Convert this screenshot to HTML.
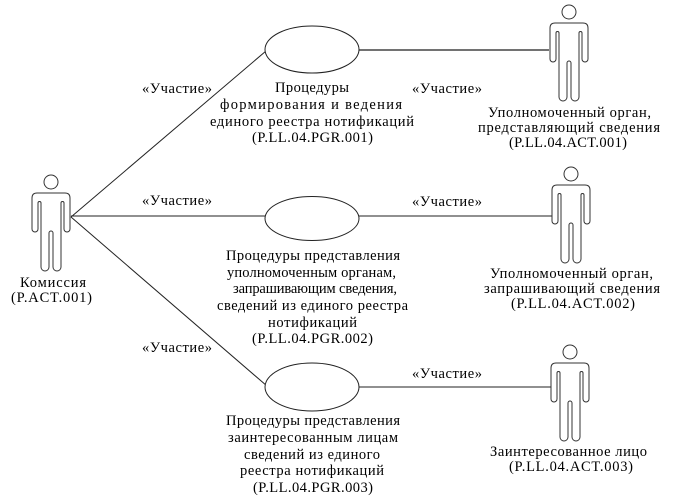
<!DOCTYPE html>
<html>
<head>
<meta charset="utf-8">
<style>
  html, body { margin:0; padding:0; background:#fff; }
  svg { display:block; }
  text { font-family: "Liberation Serif", "Times New Roman", "DejaVu Serif", serif; font-size:14.5px; fill:#000; }
</style>
</head>
<body>
<svg width="674" height="500" viewBox="0 0 674 500" xmlns="http://www.w3.org/2000/svg">
  <rect width="674" height="500" fill="#fff"/>

  <!-- connectors -->
  <g stroke="#222" stroke-width="1" fill="none">
    <line x1="71" y1="217" x2="266" y2="51"/>
    <line x1="71" y1="216" x2="265" y2="216"/>
    <line x1="71" y1="217" x2="267" y2="386"/>
    <line x1="359" y1="50" x2="549" y2="50" stroke="#444" stroke-width="1.4"/>
    <line x1="359" y1="216" x2="552" y2="216"/>
    <line x1="359" y1="387" x2="551" y2="387"/>
  </g>

  <!-- use cases -->
  <g stroke="#222" stroke-width="1" fill="#fff">
    <ellipse cx="312" cy="49.5" rx="47" ry="23.5"/>
    <ellipse cx="312" cy="218.5" rx="47" ry="22"/>
    <ellipse cx="312" cy="387" rx="47" ry="24"/>
  </g>

  <!-- actors -->
  <defs>
    <g id="actor" stroke="#333" stroke-width="1" fill="#fff">
      <circle cx="0" cy="-11" r="7"/>
      <path d="M0,0 L14,0 Q19,0 19,5 L19,36 A3,3 0 0 1 13,36 L13,10 A1.5,1.5 0 0 0 10,10 L10,74 A4,4 0 0 1 2,74 L2,40 A2,2 0 0 0 -2,40 L-2,74 A4,4 0 0 1 -10,74 L-10,10 A1.5,1.5 0 0 0 -13,10 L-13,36 A3,3 0 0 1 -19,36 L-19,5 Q-19,0 -14,0 Z"/>
    </g>
  </defs>
  <use href="#actor" x="51" y="193"/>
  <use href="#actor" x="569" y="23"/>
  <use href="#actor" x="571" y="185"/>
  <use href="#actor" x="570" y="363"/>

  <g font-family="Liberation Serif, Times New Roman, serif" font-size="14.5">
  <!-- stereotype labels -->
  <text x="142" y="93" textLength="70" lengthAdjust="spacing">«Участие»</text>
  <text x="142" y="205" textLength="70" lengthAdjust="spacing">«Участие»</text>
  <text x="142" y="352" textLength="70" lengthAdjust="spacing">«Участие»</text>
  <text x="412" y="93" textLength="70" lengthAdjust="spacing">«Участие»</text>
  <text x="412" y="206" textLength="70" lengthAdjust="spacing">«Участие»</text>
  <text x="412" y="378" textLength="70" lengthAdjust="spacing">«Участие»</text>

  <!-- Komissiya -->
  <text x="20" y="287" textLength="66" lengthAdjust="spacing">Комиссия</text>
  <text x="11" y="302" textLength="81" lengthAdjust="spacing">(P.ACT.001)</text>

  <!-- Use case 1 label -->
  <text x="275" y="92" textLength="74" lengthAdjust="spacing">Процедуры</text>
  <text x="220" y="109" textLength="182" lengthAdjust="spacing">формирования и ведения</text>
  <text x="210" y="126" textLength="204" lengthAdjust="spacing">единого реестра нотификаций</text>
  <text x="252" y="142" textLength="121" lengthAdjust="spacing">(P.LL.04.PGR.001)</text>

  <!-- Use case 2 label -->
  <text x="226" y="260" textLength="174" lengthAdjust="spacing">Процедуры представления</text>
  <text x="227" y="277" textLength="169" lengthAdjust="spacing">уполномоченным органам,</text>
  <text x="233" y="293" textLength="164" lengthAdjust="spacing">запрашивающим сведения,</text>
  <text x="217" y="310" textLength="191" lengthAdjust="spacing">сведений из единого реестра</text>
  <text x="268" y="327" textLength="89" lengthAdjust="spacing">нотификаций</text>
  <text x="252" y="343" textLength="121" lengthAdjust="spacing">(P.LL.04.PGR.002)</text>

  <!-- Use case 3 label -->
  <text x="226" y="425" textLength="174" lengthAdjust="spacing">Процедуры представления</text>
  <text x="228" y="442" textLength="170" lengthAdjust="spacing">заинтересованным лицам</text>
  <text x="244" y="459" textLength="136" lengthAdjust="spacing">сведений из единого</text>
  <text x="240" y="475" textLength="144" lengthAdjust="spacing">реестра нотификаций</text>
  <text x="253" y="492" textLength="120" lengthAdjust="spacing">(P.LL.04.PGR.003)</text>

  <!-- Actor 1 label -->
  <text x="488" y="117" textLength="163" lengthAdjust="spacing">Уполномоченный орган,</text>
  <text x="478" y="132" textLength="182" lengthAdjust="spacing">представляющий сведения</text>
  <text x="509" y="147" textLength="118" lengthAdjust="spacing">(P.LL.04.ACT.001)</text>

  <!-- Actor 2 label -->
  <text x="490" y="278" textLength="163" lengthAdjust="spacing">Уполномоченный орган,</text>
  <text x="484" y="293" textLength="176" lengthAdjust="spacing">запрашивающий сведения</text>
  <text x="511" y="308" textLength="124" lengthAdjust="spacing">(P.LL.04.ACT.002)</text>

  <!-- Actor 3 label -->
  <text x="490" y="456" textLength="157" lengthAdjust="spacing">Заинтересованное лицо</text>
  <text x="509" y="471" textLength="124" lengthAdjust="spacing">(P.LL.04.ACT.003)</text>
  </g>
</svg>
</body>
</html>
